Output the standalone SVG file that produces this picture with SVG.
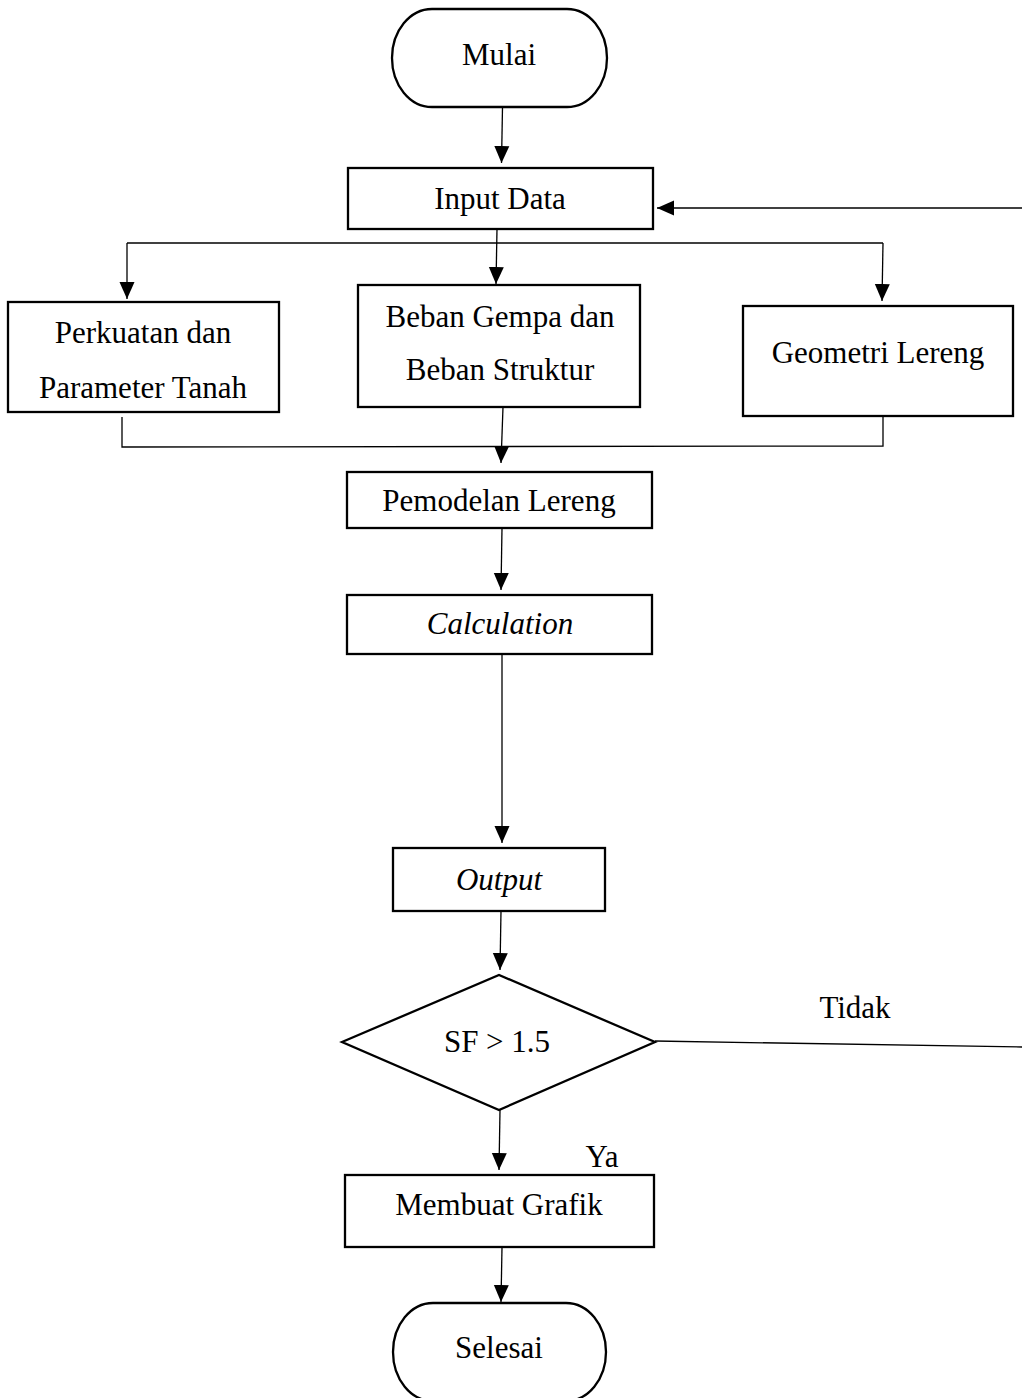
<svg xmlns="http://www.w3.org/2000/svg" width="1022" height="1398" viewBox="0 0 1022 1398">
<style>
.box{fill:#fff;stroke:#000;stroke-width:2.3}
.ln{fill:none;stroke:#000;stroke-width:1.3}
.t{font-family:"Liberation Serif","Times New Roman",serif;font-size:31px;fill:#000;text-anchor:middle}
.i{font-style:italic}
</style>
<defs>
<marker id="ah" markerUnits="userSpaceOnUse" markerWidth="17" markerHeight="16" viewBox="0 0 17 16" refX="17" refY="8" orient="auto">
<path d="M0,0.5 L17,8 L0,15.5 z" fill="#000"/>
</marker>
</defs>
<rect width="1022" height="1398" fill="#fff"/>
<g id="connectors">
<path class="ln" d="M502.5,107 L501.5,163" marker-end="url(#ah)"/>
<path class="ln" d="M1022,208 L657,208" marker-end="url(#ah)"/>
<path class="ln" d="M497,229 L496,284" marker-end="url(#ah)"/>
<path class="ln" d="M127,243 L883,243"/>
<path class="ln" d="M127,243 L127,299" marker-end="url(#ah)"/>
<path class="ln" d="M883,243 L882,301" marker-end="url(#ah)"/>
<path class="ln" d="M122,417 L122,447 L883,446 L883,416"/>
<path class="ln" d="M503,407 L501,463" marker-end="url(#ah)"/>
<path class="ln" d="M502,528 L501,590" marker-end="url(#ah)"/>
<path class="ln" d="M502,654 L502,843" marker-end="url(#ah)"/>
<path class="ln" d="M501,911 L500,970" marker-end="url(#ah)"/>
<path class="ln" d="M655,1041 L1022,1047"/>
<path class="ln" d="M500,1110 L499,1170" marker-end="url(#ah)"/>
<path class="ln" d="M502,1247 L501,1302" marker-end="url(#ah)"/>
</g>
<g id="mulai">
<rect class="box" x="392" y="9" width="215" height="98" rx="40" ry="49"/>
<text class="t" x="499" y="65">Mulai</text>
</g>
<g id="input-data">
<rect class="box" x="348" y="168" width="305" height="61"/>
<text class="t" x="500" y="209">Input Data</text>
</g>
<g id="perkuatan">
<rect class="box" x="8" y="302" width="271" height="110"/>
<text class="t" x="143" y="343">Perkuatan dan</text>
<text class="t" x="143" y="398">Parameter Tanah</text>
</g>
<g id="beban">
<rect class="box" x="358" y="285" width="282" height="122"/>
<text class="t" x="500" y="327">Beban Gempa dan</text>
<text class="t" x="500" y="380">Beban Struktur</text>
</g>
<g id="geometri">
<rect class="box" x="743" y="306" width="270" height="110"/>
<text class="t" x="878" y="363">Geometri Lereng</text>
</g>
<g id="pemodelan">
<rect class="box" x="347" y="472" width="305" height="56"/>
<text class="t" x="499" y="511">Pemodelan Lereng</text>
</g>
<g id="calculation">
<rect class="box" x="347" y="595" width="305" height="59"/>
<text class="t i" x="500" y="634">Calculation</text>
</g>
<g id="output">
<rect class="box" x="393" y="848" width="212" height="63"/>
<text class="t i" x="499" y="890">Output</text>
</g>
<g id="decision">
<polygon class="box" points="342,1042 499,975 655,1042 499,1110"/>
<text class="t" x="497" y="1052">SF &gt; 1.5</text>
<text class="t" x="855" y="1018">Tidak</text>
<text class="t" x="602" y="1167">Ya</text>
</g>
<g id="membuat-grafik">
<rect class="box" x="345" y="1175" width="309" height="72"/>
<text class="t" x="499" y="1215">Membuat Grafik</text>
</g>
<g id="selesai">
<rect class="box" x="393" y="1303" width="213" height="98" rx="40" ry="49"/>
<text class="t" x="499" y="1358">Selesai</text>
</g>
</svg>
